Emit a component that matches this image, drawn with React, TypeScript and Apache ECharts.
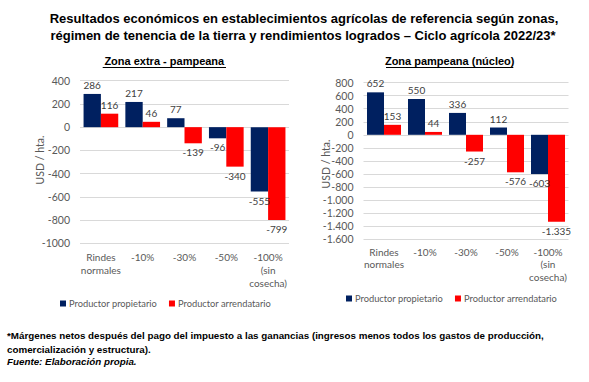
import React, { useEffect, useRef } from "react";
import * as echarts from "echarts";

const categories = ["Rindes\nnormales", "-10%", "-30%", "-50%", "-100%\n(sin\ncosecha)"];
const seriesNames = ["Productor propietario", "Productor arrendatario"];
const extraPropietario = [286, 217, 77, -96, -555];
const extraArrendatario = [116, 46, -139, -340, -799];
const nucleoPropietario = [652, 550, 336, 112, -603];
const nucleoArrendatario = [153, 44, -257, -576, -1335];
const titleLines = [
  "Resultados económicos en establecimientos agrícolas de referencia según zonas,",
  "régimen de tenencia de la tierra y rendimientos logrados – Ciclo agrícola 2022/23*",
];
const subtitles = ["Zona extra - pampeana", "Zona pampeana (núcleo)"];
const yName = "USD / hta.";
const footLines = [
  "*Márgenes netos después del pago del impuesto a las ganancias (ingresos menos todos los gastos de producción,",
  "comercialización y estructura).",
  "Fuente: Elaboración propia.",
];

const NAVY = "#002060";
const RED = "#ff0000";
const FONT = "Lato, 'Liberation Sans', sans-serif";
const BOLD = "'Liberation Sans', Arial, sans-serif";

const dotFmt = (v: number) => {
  const s = Math.abs(Math.round(v)).toString().replace(/\B(?=(\d{3})+(?!\d))/g, ".");
  return (v < 0 ? "-" : "") + s;
};

function barData(values: number[]) {
  return values.map((v) => ({
    value: v,
    label: { position: v >= 0 ? "top" : "bottom" },
  }));
}

export default function App() {
  const ref = useRef<HTMLDivElement>(null);
  useEffect(() => {
    document.body.style.margin = "0";
    const chart = echarts.init(ref.current!, undefined, { renderer: "svg" });
    const xAxisBase = (gridIndex: number, lh: number) => ({
      type: "category",
      gridIndex,
      data: categories,
      axisLine: { show: false },
      axisTick: { show: false },
      axisLabel: {
        color: "#595959",
        fontFamily: FONT,
        fontSize: 10,
        lineHeight: lh,
        margin: 7,
        interval: 0,
      },
    });
    const yAxisBase = (gridIndex: number, min: number, max: number, fmt: (v: number) => string) => ({
      type: "value",
      gridIndex,
      min,
      max,
      interval: 200,
      axisLine: { show: false },
      axisTick: { show: false },
      splitLine: { lineStyle: { color: "#d9d9d9", width: 1 } },
      axisLabel: { color: "#595959", fontFamily: FONT, fontSize: 10.5, margin: 10, formatter: fmt },
    });
    const labelBase = (fmt: (v: number) => string) => ({
      show: true,
      color: "#404040",
      fontFamily: FONT,
      fontSize: 10,
      distance: 4,
      formatter: (p: any) => fmt(p.value),
    });
    const plain = (v: number) => String(v);
    const mkSeries = (name: string, idx: number, values: number[], color: string, fmt: (v: number) => string) => ({
      type: "bar",
      name,
      xAxisIndex: idx,
      yAxisIndex: idx,
      data: barData(values),
      itemStyle: { color },
      barGap: "0%",
      barCategoryGap: "17%",
      label: labelBase(fmt),
    });
    const gtext = (text: string, x: number, y: number, font: string, align = "center", extra: any = {}) => ({
      type: "text",
      x,
      y,
      style: { text, font, fill: "#000", align, verticalAlign: "middle", ...extra },
    });
    const legendBase = (left: number, top: number) => ({
      data: seriesNames,
      left,
      top,
      width: 260,
      padding: 0,
      itemWidth: 6,
      itemHeight: 6,
      itemGap: 12,
      icon: "rect",
      textStyle: { color: "#595959", fontFamily: FONT, fontSize: 9.3, padding: [0, 0, 0, -2] },
    });
    chart.setOption({
      animation: false,
      grid: [
        { left: 80, top: 80.7, width: 209, height: 162.6 },
        { left: 363.5, top: 82.7, width: 205, height: 156.3 },
      ],
      xAxis: [xAxisBase(0, 13), xAxisBase(1, 12.3)],
      yAxis: [yAxisBase(0, -1000, 400, plain), yAxisBase(1, -1600, 800, dotFmt)],
      legend: [legendBase(60, 299), legendBase(346, 294)],
      series: [
        mkSeries(seriesNames[0], 0, extraPropietario, NAVY, plain),
        mkSeries(seriesNames[1], 0, extraArrendatario, RED, plain),
        mkSeries(seriesNames[0], 1, nucleoPropietario, NAVY, dotFmt),
        mkSeries(seriesNames[1], 1, nucleoArrendatario, RED, dotFmt),
      ],
      graphic: [
        gtext(titleLines[0], 304, 18, `bold 13px ${BOLD}`),
        gtext(titleLines[1], 303, 35, `bold 13px ${BOLD}`),
        gtext(subtitles[0], 164.3, 61, `bold 11px ${BOLD}`),
        gtext(subtitles[1], 449.7, 61, `bold 11px ${BOLD}`),
        { type: "line", shape: { x1: 102.7, y1: 67.5, x2: 226, y2: 67.5 }, style: { stroke: "#000", lineWidth: 1 } },
        { type: "line", shape: { x1: 386, y1: 67.5, x2: 513.3, y2: 67.5 }, style: { stroke: "#000", lineWidth: 1 } },
        { type: "text", x: 40, y: 160, rotation: Math.PI / 2, style: { text: yName, font: `10.5px ${FONT}`, fill: "#595959", align: "center", verticalAlign: "middle" } },
        { type: "text", x: 326, y: 164, rotation: Math.PI / 2, style: { text: yName, font: `10.5px ${FONT}`, fill: "#595959", align: "center", verticalAlign: "middle" } },
        gtext(footLines[0], 7, 335.7, `bold 9.8px ${BOLD}`, "left"),
        gtext(footLines[1], 7, 349.3, `bold 9.8px ${BOLD}`, "left"),
        gtext(footLines[2], 7, 361.7, `italic bold 9.8px ${BOLD}`, "left"),
      ],
    });
    return () => chart.dispose();
  }, []);
  return <div ref={ref} style={{ width: 589, height: 382 }} />;
}
